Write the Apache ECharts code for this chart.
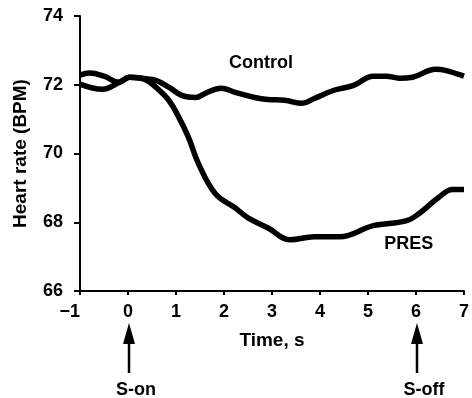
<!DOCTYPE html>
<html><head><meta charset="utf-8">
<script src="https://cdn.jsdelivr.net/npm/echarts@6/dist/echarts.min.js"></script>
<style>html,body{margin:0;padding:0;background:#fff}#c{width:472px;height:398px}</style>
</head><body><div id="c"></div>
<script>
const controlTime = [-1,-0.8,-0.5,-0.18,0.03,0.34,0.58,0.85,1.12,1.41,1.61,1.94,2.23,2.64,2.91,3.26,3.63,3.88,4.29,4.70,5.11,5.38,5.65,5.93,6.41,6.61,7.0];
const controlHR   = [72.28,72.34,72.25,72.07,72.22,72.18,72.13,71.93,71.69,71.63,71.75,71.9,71.78,71.63,71.57,71.55,71.46,71.6,71.84,71.98,72.25,72.25,72.19,72.22,72.45,72.42,72.25];
const presTime = [-1,-0.53,-0.18,0.03,0.34,0.58,0.85,1.06,1.26,1.47,1.82,2.23,2.5,2.91,3.38,3.88,4.41,5.11,5.79,6.06,6.47,6.76,7.0];
const presHR   = [72.02,71.87,72.07,72.22,72.16,71.93,71.55,71.05,70.47,69.7,68.83,68.42,68.13,67.84,67.49,67.58,67.58,67.9,68.04,68.25,68.72,68.95,68.95];
const seriesNames = ['Control','PRES'];
const labelPos = [[2.77,72.63],[5.85,67.37]];
const events = [{t:0,label:'S-on'},{t:6,label:'S-off'}];
const xTicks = {min:-1,max:7,interval:1};
const yTicks = {min:66,max:74,interval:2};

const FONT = '"Liberation Sans", Arial, Helvetica, sans-serif';
const chart = echarts.init(document.getElementById('c'));
const zip = (a,b)=>a.map((v,i)=>[v,b[i]]);
const lineStyle = {color:'#000',width:5.5};
const txt = {fontFamily:FONT,fontSize:18,fontWeight:'bold',color:'#000'};
chart.setOption({
  animation:false,
  grid:{left:80,top:16,right:3,bottom:107,containLabel:false},
  xAxis:{type:'value',min:xTicks.min,max:xTicks.max,interval:xTicks.interval,
    name:'Time, s',nameLocation:'middle',nameGap:40,
    nameTextStyle:Object.assign({},txt,{fontSize:19}),
    axisLine:{onZero:false,lineStyle:{color:'#000',width:2}},
    axisTick:{show:true,length:4,lineStyle:{color:'#000',width:2}},
    axisLabel:Object.assign({},txt,{margin:12,alignMinLabel:'right',
      formatter:v=>String(v).replace('-','\u2212')}),
    splitLine:{show:false}},
  yAxis:{type:'value',min:yTicks.min,max:yTicks.max,interval:yTicks.interval,
    name:'Heart rate (BPM)',nameLocation:'middle',nameGap:50,
    nameTextStyle:Object.assign({},txt,{fontSize:19}),
    axisLine:{show:true,onZero:false,lineStyle:{color:'#000',width:2}},
    axisTick:{show:true,length:6,lineStyle:{color:'#000',width:2}},
    axisLabel:Object.assign({},txt,{margin:17}),
    splitLine:{show:false}},
  series:[
    {name:seriesNames[0],type:'line',data:zip(controlTime,controlHR),smooth:0.4,showSymbol:false,lineStyle},
    {name:seriesNames[1],type:'line',data:zip(presTime,presHR),smooth:0.4,showSymbol:false,lineStyle}
  ]
});
const g = [];
seriesNames.forEach((n,i)=>{
  const p = chart.convertToPixel({gridIndex:0},labelPos[i]);
  g.push({type:'text',x:p[0],y:p[1],style:{text:n,fontFamily:FONT,fontSize:18,fontWeight:'bold',fill:'#000',align:'center',verticalAlign:'middle'}});
});
events.forEach(e=>{
  const x = chart.convertToPixel({xAxisIndex:0},e.t) + 1;
  g.push({type:'polygon',shape:{points:[[x,323],[x-6,344],[x+6,344]]},style:{fill:'#000'}});
  g.push({type:'line',shape:{x1:x,y1:340,x2:x,y2:373},style:{stroke:'#000',lineWidth:2.5}});
  g.push({type:'text',x:x+7,y:390,style:{text:e.label,fontFamily:FONT,fontSize:18,fontWeight:'bold',fill:'#000',align:'center',verticalAlign:'middle'}});
});
chart.setOption({graphic:g});
</script></body></html>
